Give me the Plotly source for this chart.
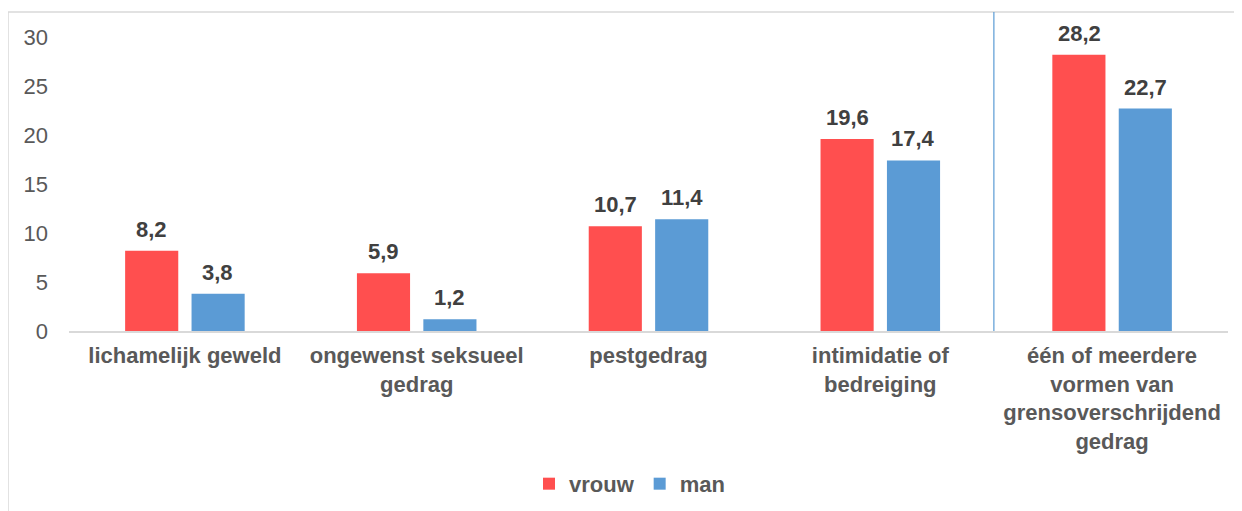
import plotly.graph_objects as go

categories = ["lichamelijk geweld", "ongewenst seksueel<br>gedrag", "pestgedrag",
              "intimidatie of<br>bedreiging",
              "één of meerdere<br>vormen van<br>grensoverschrijdend<br>gedrag"]
vrouw = [8.2, 5.9, 10.7, 19.6, 28.2]
man = [3.8, 1.2, 11.4, 17.4, 22.7]
y_ticks = [0, 5, 10, 15, 20, 25, 30]

FONT = "Arial, Liberation Sans, sans-serif"
RED = "#FF4F4F"
BLUE = "#5B9BD5"

L, T, B, R = 61, 29, 188, 22
PW, PH = 1242 - L - R, 511 - T - B

fig = go.Figure()
annotations = []
for k, (name, vals, col) in enumerate([("vrouw", vrouw, RED), ("man", man, BLUE)]):
    fig.add_trace(go.Bar(
        name=name, x=categories, y=vals, marker_color=col,
        marker_line_width=0, cliponaxis=False,
    ))
    for c, v in zip(categories, vals):
        annotations.append(dict(
            x=c, y=v, xref="x", yref="y", text=f"{v:.1f}".replace(".", ","),
            showarrow=False, yanchor="bottom", yshift=7,
            xshift=(-33 if k == 0 else 33),
            font=dict(family=FONT, size=22, color="#404040", weight="bold"),
        ))

fig.update_layout(
    width=1242, height=511,
    margin=dict(l=L, r=R, t=T, b=B),
    paper_bgcolor="white", plot_bgcolor="white",
    separators=",.",
    barmode="group", bargap=0.427, bargroupgap=0.2,
    font=dict(family=FONT, color="#595959", size=22),
    showlegend=True,
    legend=dict(orientation="h", x=0.4836, xanchor="center", y=-0.52, yanchor="middle",
                font=dict(family=FONT, size=22, color="#595959", weight="bold"),
                itemwidth=30, traceorder="normal"),
    xaxis=dict(showline=True, linecolor="#D9D9D9", linewidth=1.5,
               tickfont=dict(family=FONT, size=22, color="#595959", weight="bold"),
               ticks="", showgrid=False, ticklabelstandoff=4),
    yaxis=dict(range=[0, 30], tickvals=y_ticks, showgrid=False, zeroline=False,
               showline=False, ticks="", ticklabelstandoff=20,
               tickfont=dict(family=FONT, size=22, color="#595959")),
    annotations=annotations,
    shapes=[
        dict(type="rect", xref="paper", yref="paper",
             x0=(0 - L) / PW, x1=(1260 - L) / PW,
             y0=-(B + 20) / PH, y1=1 + (T - 4) / PH,
             line=dict(color="#D9D9D9", width=1.5), layer="below"),
        dict(type="line", xref="x", yref="paper", x0=3.49, x1=3.49,
             y0=0, y1=1 + (T - 4) / PH, line=dict(color="#5B9BD5", width=1.2)),
    ],
)

fig.write_html("out.html")
